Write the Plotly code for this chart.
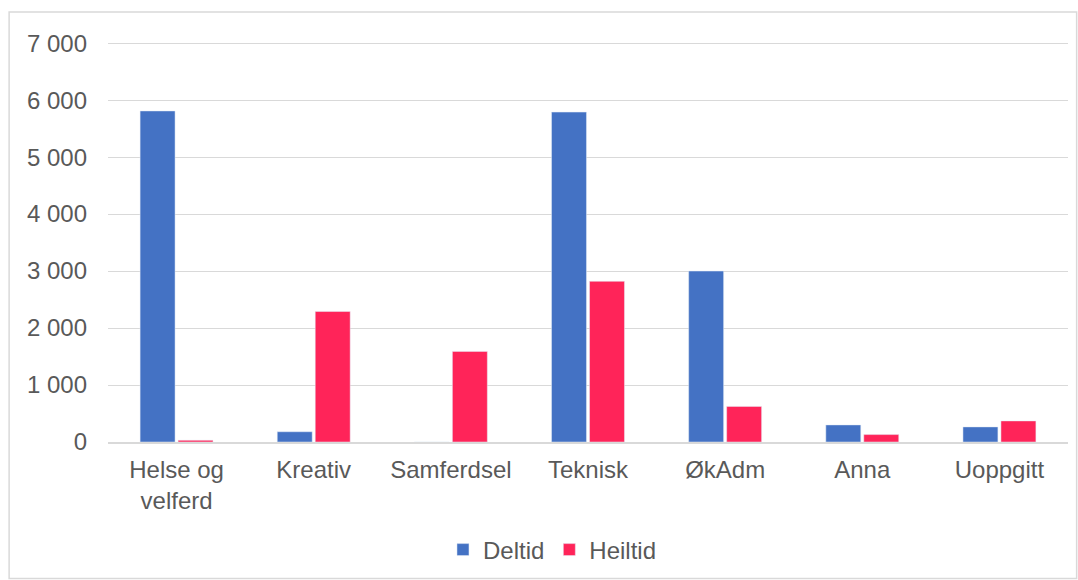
import plotly.graph_objects as go

categories = ["Helse og<br>velferd", "Kreativ", "Samferdsel", "Teknisk", "ØkAdm", "Anna", "Uoppgitt"]
deltid = [5810, 180, 0, 5790, 3000, 300, 265]
heiltid = [30, 2290, 1590, 2820, 625, 130, 370]
tick_vals = [0, 1000, 2000, 3000, 4000, 5000, 6000, 7000]
tick_text = ["0", "1 000", "2 000", "3 000", "4 000", "5 000", "6 000", "7 000"]

font_family = "Liberation Sans, Arial, sans-serif"
text_color = "#595959"
fs = 24

fig = go.Figure()
fig.add_trace(go.Bar(x=categories, y=deltid, name="Deltid", marker_color="#4472C4"))
fig.add_trace(go.Bar(x=categories, y=heiltid, name="Heiltid", marker_color="#FF2459"))

fig.update_layout(
    width=1078, height=580,
    margin=dict(l=108, r=10, t=42, b=138, autoexpand=False),
    paper_bgcolor="white", plot_bgcolor="white",
    barmode="group", bargap=0.446, bargroupgap=0.08,
    font=dict(family=font_family, size=fs, color=text_color),
    legend=dict(orientation="h", x=0.463, xanchor="center", y=-0.27, yanchor="middle",
                font=dict(size=fs, color=text_color), itemwidth=30),
    showlegend=True,
)
fig.update_yaxes(range=[0, 7020], tickvals=tick_vals, ticktext=tick_text,
                 showgrid=True, gridcolor="#d9d9d9", gridwidth=1,
                 zeroline=False, showline=False, ticklabelstandoff=20, automargin=False,
                 tickfont=dict(size=fs, color=text_color))
fig.update_xaxes(showline=True, linecolor="#d9d9d9", linewidth=2, automargin=False,
                 tickfont=dict(size=fs, color=text_color), ticklabelstandoff=5)

fig.add_shape(type="rect", xref="paper", yref="paper",
              x0=-0.103, x1=1.009, y0=-0.341, y1=1.075,
              line=dict(color="#d9d9d9", width=1.5), fillcolor="rgba(0,0,0,0)", layer="below")

fig.write_html("out.html", config={"displayModeBar": False},
               post_script="document.body.style.margin='0';document.body.style.overflow='hidden';")
